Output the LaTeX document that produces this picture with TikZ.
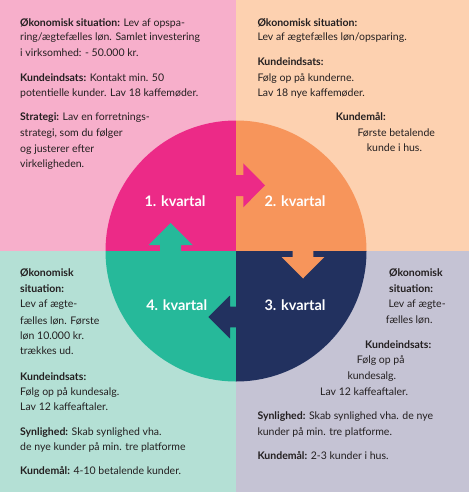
\documentclass[tikz,border=0pt]{standalone}
\usepackage{fontspec}
\setmainfont{Lato}
\definecolor{bgpink}{HTML}{F7AFCB}
\definecolor{bgpeach}{HTML}{FDD1B0}
\definecolor{bgmint}{HTML}{B4E0D5}
\definecolor{bglav}{HTML}{C5C3D4}
\definecolor{qpink}{HTML}{EC2A87}
\definecolor{qorange}{HTML}{F7955B}
\definecolor{qnavy}{HTML}{22315F}
\definecolor{qteal}{HTML}{26B99A}
\definecolor{ink}{HTML}{231F20}
\tikzset{
  txt/.style={anchor=base west, inner sep=0pt, text=ink, font=\fontsize{10.5}{13}\selectfont},
  qlabel/.style={inner sep=0pt, text=white, font=\bfseries\fontsize{14.5}{16}\selectfont}
}
\begin{document}
\begin{tikzpicture}[x=1pt,y=-1pt]
\useasboundingbox (0,0) rectangle (469,492);
% backgrounds
\fill[bgpink] (0,0) rectangle (236,251);
\fill[bgpeach] (236,0) rectangle (469,251);
\fill[bgmint] (0,251) rectangle (236,492);
\fill[bglav] (236,251) rectangle (469,492);
% circle quadrants
\def\R{130.5}
\begin{scope}
\clip (236,251) circle[radius=\R];
\fill[qpink] (100,110) rectangle (236,251);
\fill[qorange] (236,110) rectangle (380,251);
\fill[qnavy] (236,251) rectangle (380,390);
\fill[qteal] (100,251) rectangle (236,390);
\end{scope}
% arrows
\fill[qpink] (235,175) -- (243.3,175) -- (243.3,163.3) -- (265,185.3) -- (243.3,207.3) -- (243.3,196) -- (235,196) -- cycle;
\fill[qorange] (292.7,250) -- (292.7,257) -- (281.7,257) -- (303,278.5) -- (324.3,257) -- (313.3,257) -- (313.3,250) -- cycle;
\fill[qnavy] (237,306.7) -- (230,306.7) -- (230,295.5) -- (208.3,317) -- (230,338.5) -- (230,327.3) -- (237,327.3) -- cycle;
\fill[qteal] (160,252) -- (160,245) -- (148.5,245) -- (170.5,223) -- (192.5,245) -- (181,245) -- (181,252) -- cycle;
% quarter labels
\node[qlabel] (q1) at (175,200.7) {1. kvartal};
\node[qlabel] (q2) at (295,200.7) {2. kvartal};
\node[qlabel] (q3) at (295,305) {3. kvartal};
\node[qlabel] (q4) at (176.7,305) {4. kvartal};
% top-left text
\node[txt] (a1) at (20,26.8) {\textbf{Økonomisk situation:} Lev af opspa-};
\node[txt] (a2) at (20,40.8) {ring/ægtefælles løn. Samlet investering};
\node[txt] (a3) at (20,56.2) {i virksomhed: - 50.000 kr.};
\node[txt] (a4) at (20,81.8) {\textbf{Kundeindsats:} Kontakt min. 50};
\node[txt] (a5) at (20,96.8) {potentielle kunder. Lav 18 kaffemøder.};
\node[txt] (a6) at (20,120.8) {\textbf{Strategi:} Lav en forretnings-};
\node[txt] (a7) at (20,136.2) {strategi, som du følger};
\node[txt] (a8) at (20,152.8) {og justerer efter};
\node[txt] (a9) at (20,167.5) {virkeligheden.};
% top-right text
\node[txt] (b1) at (257.3,26.2) {\textbf{Økonomisk situation:}};
\node[txt] (b2) at (257.3,40.8) {Lev af ægtefælles løn/opsparing.};
\node[txt] (b3) at (257.3,65.5) {\textbf{Kundeindsats:}};
\node[txt] (b4) at (257.3,81.2) {Følg op på kunderne.};
\node[txt] (b5) at (257.3,96.2) {Lav 18 nye kaffemøder.};
\node[txt] (b6) at (335.7,120.8) {\textbf{Kundemål:}};
\node[txt] (b7) at (357.3,136.8) {Første betalende};
\node[txt] (b8) at (366.7,151.5) {kunde i hus.};
% bottom-left text
\node[txt] (c1) at (20,276.8) {\textbf{Økonomisk}};
\node[txt] (c2) at (20,292.5) {\textbf{situation:}};
\node[txt] (c3) at (20,307.8) {Lev af ægte-};
\node[txt] (c4) at (20,324.2) {fælles løn. Første};
\node[txt] (c5) at (20,339.5) {løn 10.000 kr.};
\node[txt] (c6) at (20,354.8) {trækkes ud.};
\node[txt] (c7) at (20,380.2) {\textbf{Kundeindsats:}};
\node[txt] (c8) at (20,395.8) {Følg op på kundesalg.};
\node[txt] (c9) at (20,410.2) {Lav 12 kaffeaftaler.};
\node[txt] (c10) at (20,435.2) {\textbf{Synlighed:} Skab synlighed vha.};
\node[txt] (c11) at (20,450.2) {de nye kunder på min. tre platforme};
\node[txt] (c12) at (20,474.8) {\textbf{Kundemål:} 4-10 betalende kunder.};
% bottom-right text
\node[txt] (d1) at (389,276.8) {\textbf{Økonomisk}};
\node[txt] (d2) at (389,292.5) {\textbf{situation:}};
\node[txt] (d3) at (388.3,307.8) {Lev af ægte-};
\node[txt] (d4) at (385.7,323.5) {fælles løn.};
\node[txt] (d5) at (365,348.5) {\textbf{Kundeindsats:}};
\node[txt] (d6) at (356.7,363.5) {Følg op på};
\node[txt] (d7) at (347.3,379.5) {kundesalg.};
\node[txt] (d8) at (320,395.2) {Lav 12 kaffeaftaler.};
\node[txt] (d9) at (257.3,419.2) {\textbf{Synlighed:} Skab synlighed vha. de nye};
\node[txt] (d10) at (257.3,435.2) {kunder på min. tre platforme.};
\node[txt] (d11) at (257.3,459.2) {\textbf{Kundemål:} 2-3 kunder i hus.};
\end{tikzpicture}
\end{document}
